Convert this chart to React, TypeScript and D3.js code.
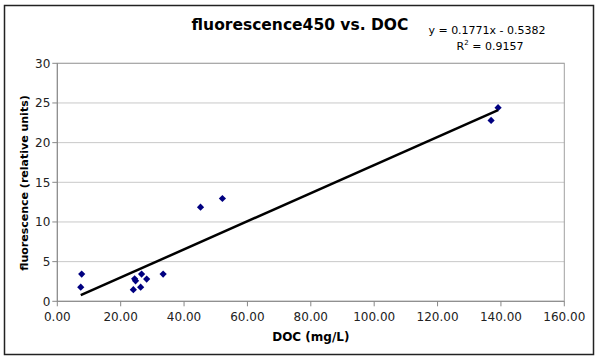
import React from "react";
import * as d3 from "d3";

const docValues = [7.7, 7.4, 24.0, 24.4, 24.7, 26.3, 26.6, 28.2, 33.4, 45.2, 52.1, 136.9, 139.1];
const fluorValues = [3.43, 1.78, 1.47, 2.83, 2.58, 1.78, 3.43, 2.8, 3.43, 11.86, 12.96, 22.8, 24.4];
const xTicks = [0, 20, 40, 60, 80, 100, 120, 140, 160];
const yTicks = [0, 5, 10, 15, 20, 25, 30];
const slope = 0.1771;
const intercept = -0.5382;
const title = "fluorescence450 vs. DOC";
const eqText = "y = 0.1771x - 0.5382";
const r2Value = "0.9157";
const xTitle = "DOC (mg/L)";
const yTitle = "fluorescence (relative units)";

const W = 600;
const H = 360;
const left = 57.3;
const right = 564.3;
const top = 63.3;
const bottom = 301.3;
const font = "Verdana, 'DejaVu Sans', sans-serif";

export default function App() {
  const x = d3.scaleLinear().domain([0, 160]).range([left, right]);
  const y = d3.scaleLinear().domain([0, 30]).range([bottom, top]);
  const xMin = d3.min(docValues) as number;
  const xMax = d3.max(docValues) as number;
  const trend = d3
    .line<number>()
    .x((d) => x(d))
    .y((d) => y(slope * d + intercept))([xMin, xMax]) as string;
  const diamond = d3.symbol().type(d3.symbolSquare).size(26)() as string;

  return (
    <svg width={W} height={H} style={{ position: "absolute", left: 0, top: 0, background: "#fff" }}>
      <rect x={0} y={0} width={W} height={H} fill="#fff" />
      <rect x={4.5} y={5.5} width={589} height={349} fill="#fff" stroke="#222" strokeWidth={1.5} />
      {yTicks.slice(1).map((t) => (
        <line key={"g" + t} x1={left} x2={right} y1={y(t)} y2={y(t)} stroke="#c8c8c8" strokeWidth={1} />
      ))}
      <rect x={left} y={top} width={right - left} height={bottom - top} fill="none" stroke="#a0a0a0" strokeWidth={1} />
      <line x1={left} x2={left} y1={top} y2={bottom} stroke="#888" />
      <line x1={left} x2={right} y1={bottom} y2={bottom} stroke="#888" />
      {yTicks.map((t) => (
        <g key={"y" + t}>
          <line x1={left - 5} x2={left} y1={y(t)} y2={y(t)} stroke="#888" />
          <text x={left - 7} y={y(t)} dy="0.35em" textAnchor="end" fontSize={12} fontFamily={font} fill="#222">
            {t}
          </text>
        </g>
      ))}
      {xTicks.map((t) => (
        <g key={"x" + t}>
          <line x1={x(t)} x2={x(t)} y1={bottom} y2={bottom + 5} stroke="#888" />
          <text x={x(t)} y={bottom + 20} textAnchor="middle" fontSize={12} fontFamily={font} fill="#222">
            {t.toFixed(2)}
          </text>
        </g>
      ))}
      {docValues.map((d, i) => (
        <path
          key={"p" + i}
          d={diamond}
          transform={`translate(${x(d)},${y(fluorValues[i])}) rotate(45)`}
          fill="#000080"
        />
      ))}
      <path d={trend} fill="none" stroke="#000" strokeWidth={2.5} />
      <text x={300} y={29.5} textAnchor="middle" fontSize={15.5} fontWeight="bold" fontFamily={font} fill="#000">
        {title}
      </text>
      <text x={487} y={33.5} textAnchor="middle" fontSize={11} fontFamily={font} fill="#000">
        {eqText}
      </text>
      <text x={490} y={50} textAnchor="middle" fontSize={11} fontFamily={font} fill="#000">
        R<tspan dy={-5} fontSize={7}>2</tspan>
        <tspan dy={5}>{" = " + r2Value}</tspan>
      </text>
      <text x={(left + right) / 2} y={341} textAnchor="middle" fontSize={12} fontWeight="bold" fontFamily={font} fill="#000">
        {xTitle}
      </text>
      <text
        transform={`translate(28,183) rotate(-90)`}
        textAnchor="middle"
        fontSize={11}
        fontWeight="bold"
        fontFamily={font}
        fill="#000"
      >
        {yTitle}
      </text>
    </svg>
  );
}
